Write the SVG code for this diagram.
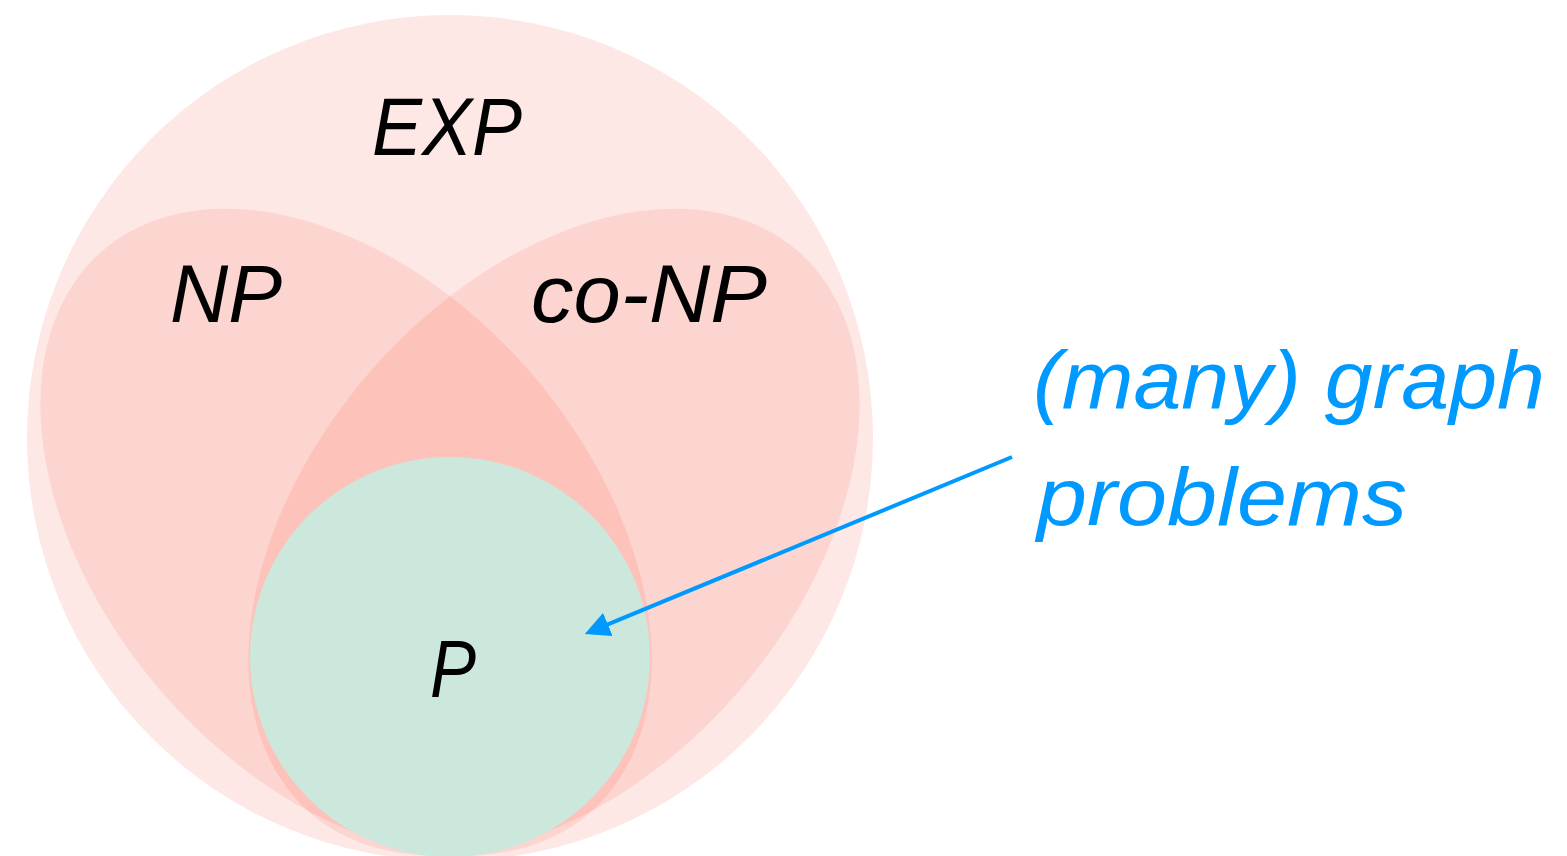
<svg xmlns="http://www.w3.org/2000/svg" width="1567" height="856" viewBox="0 0 1567 856">
  <style>
    .lbl { font-family: "Liberation Sans", Arial, sans-serif; font-style: italic; font-weight: 400; font-size: 81px; fill: #000000; text-anchor: middle; }
    .note { font-family: "Liberation Sans", Arial, sans-serif; font-style: italic; font-weight: 400; font-size: 81px; fill: #0099ff; }
  </style>
  <defs>
    <clipPath id="npClip">
      <ellipse cx="346" cy="532" rx="372" ry="244" transform="rotate(49.05 346 532)"/>
    </clipPath>
    <marker id="arrow" viewBox="0 0 25 25" refX="2" refY="12.5" markerWidth="25" markerHeight="25" markerUnits="userSpaceOnUse" orient="auto">
      <path d="M0,0 L25,12.5 L0,25 z" fill="#0099ff"/>
    </marker>
  </defs>
  <rect x="0" y="0" width="1567" height="856" fill="#ffffff"/>
  <g id="exp">
    <circle cx="450" cy="438" r="423" fill="#fde8e6"/>
    <text class="lbl" x="447" y="155" textLength="150" lengthAdjust="spacingAndGlyphs">EXP</text>
  </g>
  <g id="np">
    <ellipse cx="346" cy="532" rx="372" ry="244" transform="rotate(49.05 346 532)" fill="#fdd5d0"/>
    <text class="lbl" x="226" y="322" textLength="112" lengthAdjust="spacingAndGlyphs">NP</text>
  </g>
  <g id="conp">
    <ellipse cx="554" cy="532" rx="372" ry="244" transform="rotate(-49.05 554 532)" fill="#fdd5d0"/>
    <g clip-path="url(#npClip)">
      <ellipse cx="554" cy="532" rx="372" ry="244" transform="rotate(-49.05 554 532)" fill="#fdc3bb"/>
    </g>
    <text class="lbl" x="649" y="322" textLength="236" lengthAdjust="spacingAndGlyphs">co-NP</text>
  </g>
  <g id="p">
    <circle cx="450" cy="657" r="200" fill="#cce8dd"/>
    <text class="lbl" x="453" y="697" textLength="46" lengthAdjust="spacingAndGlyphs">P</text>
  </g>
  <g id="label">
    <text class="note" x="1033" y="408" textLength="512" lengthAdjust="spacingAndGlyphs">(many) graph</text>
    <text class="note" x="1037" y="525" textLength="370" lengthAdjust="spacingAndGlyphs">problems</text>
  </g>
  <g id="connectors">
    <line x1="1012" y1="457" x2="606" y2="625.2" stroke="#0099ff" stroke-width="4" marker-end="url(#arrow)"/>
  </g>
</svg>
